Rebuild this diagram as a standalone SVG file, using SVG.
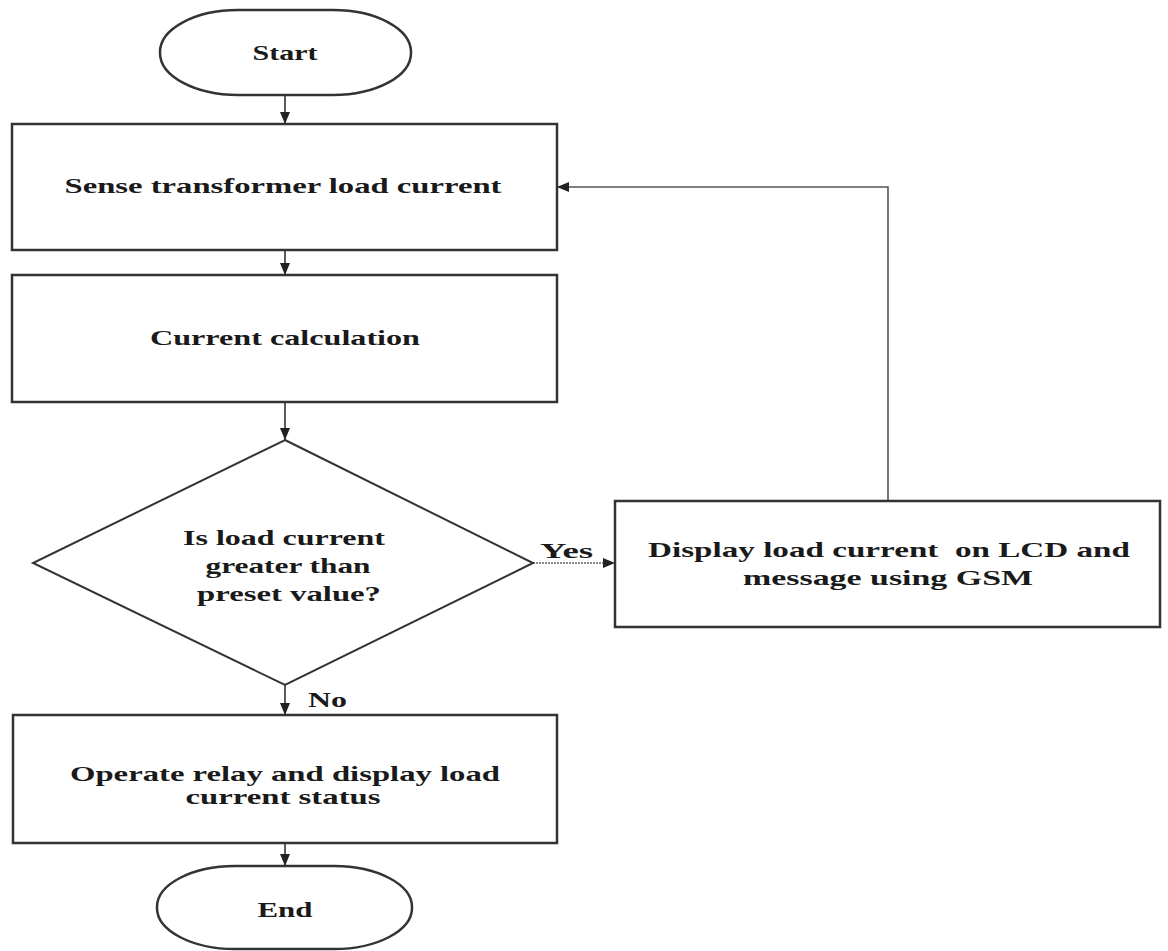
<svg xmlns="http://www.w3.org/2000/svg" width="1168" height="951" viewBox="0 0 1168 951">
  <style>
    .shape { fill: #ffffff; stroke: #333333; stroke-width: 2.5; }
    .diam { fill: #ffffff; stroke: #333333; stroke-width: 2; }
    .conn { fill: none; stroke: #333333; stroke-width: 1.6; }
    .loop { fill: none; stroke: #555555; stroke-width: 1.6; }
    .dot { fill: none; stroke: #666666; stroke-width: 1.4; stroke-dasharray: 2 1; }
    text { font-family: "Liberation Serif", "Times New Roman", serif; font-weight: bold; font-size: 21px; fill: #1a1a1a; }
    .c { text-anchor: middle; }
  </style>
  <defs>
    <marker id="arr" markerUnits="userSpaceOnUse" markerWidth="12" markerHeight="10" refX="12" refY="5" orient="auto">
      <path d="M0,0 L12,5 L0,10 z" fill="#222222"/>
    </marker>
  </defs>
  <rect width="1168" height="951" fill="#ffffff"/>

  <g id="connectors">
    <line class="conn" x1="285" y1="95" x2="285" y2="124" marker-end="url(#arr)"/>
    <line class="conn" x1="285" y1="250" x2="285" y2="275" marker-end="url(#arr)"/>
    <line class="conn" x1="285" y1="402" x2="285" y2="440" marker-end="url(#arr)"/>
    <line class="conn" x1="285" y1="685" x2="285" y2="715" marker-end="url(#arr)"/>
    <line class="dot" x1="533" y1="563" x2="615" y2="563" marker-end="url(#arr)"/>
    <polyline class="loop" points="888,501 888,187 557,187" marker-end="url(#arr)"/>
    <line class="conn" x1="285" y1="843" x2="285" y2="866" marker-end="url(#arr)"/>
    <text x="540" y="558" textLength="53" lengthAdjust="spacingAndGlyphs">Yes</text>
    <text x="308" y="707" textLength="39" lengthAdjust="spacingAndGlyphs">No</text>
  </g>

  <g id="start">
    <rect class="shape" x="160" y="10" width="251" height="85" rx="78" ry="42"/>
    <text class="c" x="285" y="60" textLength="65" lengthAdjust="spacingAndGlyphs">Start</text>
  </g>

  <g id="sense">
    <rect class="shape" x="12" y="124" width="545" height="126"/>
    <text class="c" x="283" y="193" textLength="437" lengthAdjust="spacingAndGlyphs">Sense transformer load current</text>
  </g>

  <g id="calc">
    <rect class="shape" x="12" y="275" width="545" height="127"/>
    <text class="c" x="285" y="345" textLength="270" lengthAdjust="spacingAndGlyphs">Current calculation</text>
  </g>

  <g id="decision">
    <polygon class="diam" points="285,440 533,563 285,685 33,563"/>
    <text class="c" x="284" y="545" textLength="202" lengthAdjust="spacingAndGlyphs">Is load current</text>
    <text class="c" x="288" y="573" textLength="165" lengthAdjust="spacingAndGlyphs">greater than</text>
    <text class="c" x="289" y="601" textLength="184" lengthAdjust="spacingAndGlyphs">preset value?</text>
  </g>

  <g id="display">
    <rect class="shape" x="615" y="501" width="545" height="126"/>
    <text class="c" x="889" y="557" textLength="482" lengthAdjust="spacingAndGlyphs">Display load current&#160; on LCD and</text>
    <text class="c" x="888" y="585" textLength="290" lengthAdjust="spacingAndGlyphs">message using GSM</text>
  </g>

  <g id="relay">
    <rect class="shape" x="13" y="715" width="544" height="128"/>
    <text class="c" x="285" y="781" textLength="430" lengthAdjust="spacingAndGlyphs">Operate relay and display load</text>
    <text class="c" x="283" y="804" textLength="195" lengthAdjust="spacingAndGlyphs">current status</text>
  </g>

  <g id="end">
    <rect class="shape" x="157" y="866" width="255" height="83" rx="78" ry="41"/>
    <text class="c" x="285" y="917" textLength="55" lengthAdjust="spacingAndGlyphs">End</text>
  </g>
</svg>
